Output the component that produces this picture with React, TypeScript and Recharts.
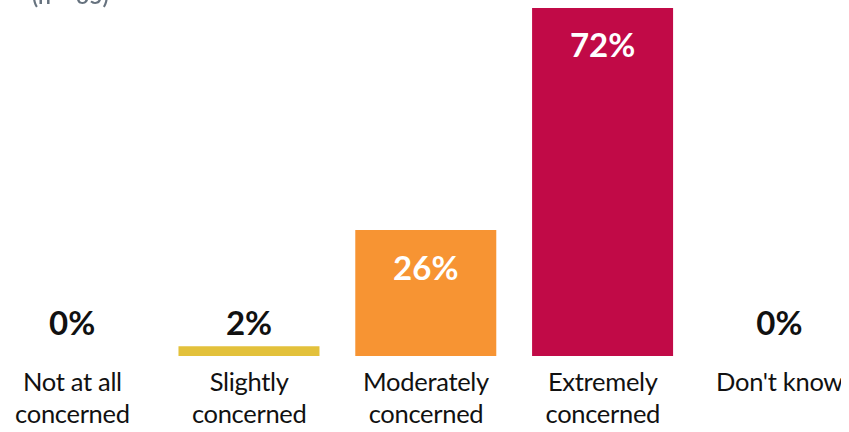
import { BarChart, Bar, XAxis, YAxis, Cell, LabelList } from "recharts";

const categories = ["Not at all\nconcerned", "Slightly\nconcerned", "Moderately\nconcerned", "Extremely\nconcerned", "Don't know"];
const values = [0, 2, 26, 72, 0];
const colors = ["#E3C13B", "#E3C13B", "#F79433", "#C10A47", "#C10A47"];
const note = "(n = 65)";

const data = categories.map((name, i) => ({ name, value: values[i] }));
const font = "Lato, 'Open Sans', sans-serif";

function Tick({ x, y, payload }: any) {
  const lines = String(payload.value).split("\n");
  return (
    <text x={x} y={y + 27} textAnchor="middle" fontFamily={font} fontSize={25.5} letterSpacing={-0.3} fill="#111">
      {lines.map((l, i) => (
        <tspan key={i} x={x} dy={i === 0 ? 0 : 32}>{l}</tspan>
      ))}
    </text>
  );
}

function ValueLabel({ x, y, width, height, value }: any) {
  const cx = x + width / 2;
  const bottom = y + height;
  const inside = value >= 10;
  return (
    <text
      x={cx}
      y={inside ? y + 50 : bottom - 21}
      textAnchor="middle"
      fontFamily={font}
      fontWeight={700}
      fontSize={33}
      fill={inside ? "#fff" : "#111"}
    >
      {value}%
    </text>
  );
}

export default function App() {
  return (
    <div style={{ width: 849, height: 432, overflow: "hidden", margin: -8, position: "relative" }}>
      <div style={{ marginLeft: -16 }}>
        <BarChart width={884} height={432} data={data} margin={{ top: 7, right: 0, bottom: 0, left: 0 }} barCategoryGap="10%">
          <XAxis dataKey="name" axisLine={false} tickLine={false} interval={0} height={76} tick={<Tick />} />
          <YAxis hide domain={[0, 72]} />
          <Bar dataKey="value" isAnimationActive={false} minPointSize={0.1}>
            {data.map((_, i) => <Cell key={i} fill={colors[i]} />)}
            <LabelList dataKey="value" content={<ValueLabel />} />
          </Bar>
        </BarChart>
      </div>
      <div style={{ position: "fixed", left: 32, top: -16, fontFamily: font, fontSize: 23, lineHeight: "23px", fontWeight: 600, color: "#66727E", whiteSpace: "nowrap" }}>
        {note}
      </div>
    </div>
  );
}
